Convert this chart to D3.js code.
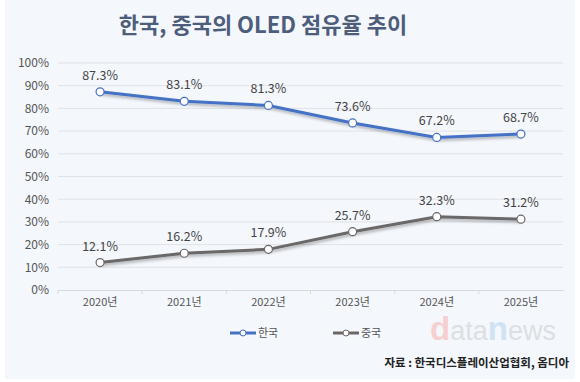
<!DOCTYPE html>
<meta charset="utf-8">
<style>
  body { margin: 0; background: #fff; }
  text { font-family: "Noto Sans CJK KR", "Noto Sans", sans-serif; }
</style>
<body>
<div id="chart"></div>
<script src="https://d3js.org/d3.v7.min.js"></script>
<script>

var years = ["2020년", "2021년", "2022년", "2023년", "2024년", "2025년"];
var korea = [87.3, 83.1, 81.3, 73.6, 67.2, 68.7];
var china = [12.1, 16.2, 17.9, 25.7, 32.3, 31.2];
var yTicks = [0, 10, 20, 30, 40, 50, 60, 70, 80, 90, 100];
var seriesNames = ["한국", "중국"];
var seriesColors = ["#4472c4", "#6b6767"];

var W = 580, H = 382;
var margin = {top: 63, right: 17, bottom: 92, left: 58},
    width = W - margin.left - margin.right,
    height = H - margin.top - margin.bottom;

var root = d3.select("#chart").append("svg")
  .attr("width", W).attr("height", H);

var defs = root.append("defs");
var f = defs.append("filter").attr("id", "shadow")
  .attr("x", "-5%").attr("y", "-50%").attr("width", "110%").attr("height", "200%");
f.append("feDropShadow")
  .attr("dx", 1).attr("dy", 2).attr("stdDeviation", 1.5)
  .attr("flood-color", "#000").attr("flood-opacity", 0.3);

// panel
root.append("rect")
  .attr("x", 5).attr("y", 0).attr("width", 570).attr("height", 379)
  .attr("fill", "#f4f7fc");

root.append("text")
  .attr("x", 263).attr("y", 33)
  .attr("text-anchor", "middle")
  .style("font-size", "22px").style("font-weight", "bold")
  .attr("fill", "#4d5d7b")
  .text("한국, 중국의 OLED 점유율 추이");

var svg = root.append("g")
  .attr("transform", "translate(" + margin.left + "," + margin.top + ")");

var x = d3.scaleBand().domain(years).range([0, width]);
var y = d3.scaleLinear().domain([0, 100]).range([height, 0]);

// gridlines
svg.append("g")
  .selectAll("line")
  .data(yTicks.slice(1))
  .enter().append("line")
    .attr("x1", 0).attr("x2", width)
    .attr("y1", function(d) { return y(d); })
    .attr("y2", function(d) { return y(d); })
    .attr("stroke", "#dfe2e7").attr("stroke-width", 1);

var yAxis = svg.append("g")
  .call(d3.axisLeft(y).tickValues(yTicks).tickFormat(function(d) { return d + "%"; }).tickSize(0).tickPadding(9));
yAxis.select(".domain").remove();
yAxis.selectAll("text").style("font-size", "12px").attr("fill", "#555");

var xAxis = svg.append("g")
  .attr("transform", "translate(0," + height + ")")
  .call(d3.axisBottom(x).tickSize(0).tickPadding(8));
xAxis.select(".domain").attr("stroke", "#d6d9de");
xAxis.selectAll("text").style("font-size", "11px").attr("fill", "#555");
// small separators between categories
svg.append("g")
  .selectAll("line")
  .data(years)
  .enter().append("line")
    .attr("x1", function(d) { return x(d); })
    .attr("x2", function(d) { return x(d); })
    .attr("y1", height).attr("y2", height + 4)
    .attr("stroke", "#d6d9de");

var line = d3.line()
  .x(function(d, i) { return x(years[i]) + x.bandwidth() / 2; })
  .y(function(d) { return y(d); });

[korea, china].forEach(function(data, s) {
  svg.append("path")
    .datum(data)
    .attr("d", line)
    .attr("fill", "none")
    .attr("stroke", seriesColors[s])
    .attr("stroke-width", 3)
    .attr("filter", "url(#shadow)");

  svg.append("g").selectAll("circle")
    .data(data)
    .enter().append("circle")
      .attr("cx", function(d, i) { return x(years[i]) + x.bandwidth() / 2; })
      .attr("cy", function(d) { return y(d); })
      .attr("r", 4)
      .attr("fill", "#fff")
      .attr("stroke", seriesColors[s])
      .attr("stroke-width", 1.2);

  svg.append("g").selectAll("text")
    .data(data)
    .enter().append("text")
      .attr("x", function(d, i) { return x(years[i]) + x.bandwidth() / 2; })
      .attr("y", function(d) { return y(d) - 12; })
      .attr("text-anchor", "middle")
      .style("font-size", "12.5px")
      .attr("fill", "#444")
      .text(function(d) { return d.toFixed(1) + "%"; });
});

// legend
var legendX = [230, 333];
seriesNames.forEach(function(name, s) {
  var g = root.append("g").attr("transform", "translate(" + legendX[s] + ",333)");
  g.append("line").attr("x1", 0).attr("x2", 26).attr("y1", 0).attr("y2", 0)
    .attr("stroke", seriesColors[s]).attr("stroke-width", 3);
  g.append("circle").attr("cx", 13).attr("cy", 0).attr("r", 3)
    .attr("fill", "#fff").attr("stroke", seriesColors[s]).attr("stroke-width", 1);
  g.append("text").attr("x", 28).attr("y", 4)
    .style("font-size", "11px").attr("fill", "#555").text(name);
});

// watermark
var wm = root.append("text")
  .attr("x", 430).attr("y", 340)
  .style("font-family", "'Liberation Sans', Arial, sans-serif")
  .style("font-size", "27px");
wm.append("tspan").attr("fill", "#f6d0d0").style("font-size", "33px").style("font-weight", "bold").text("d");
wm.append("tspan").attr("fill", "#dcdfe3").text("ata");
wm.append("tspan").attr("fill", "#cfe3f3").style("font-size", "33px").style("font-weight", "bold").text("n");
wm.append("tspan").attr("fill", "#dcdfe3").text("ews");

root.append("text")
  .attr("x", 569).attr("y", 367)
  .attr("text-anchor", "end")
  .style("font-size", "11.5px").style("font-weight", "bold")
  .attr("fill", "#222")
  .text("자료 : 한국디스플레이산업협회, 옴디아");

</script>
</body>
